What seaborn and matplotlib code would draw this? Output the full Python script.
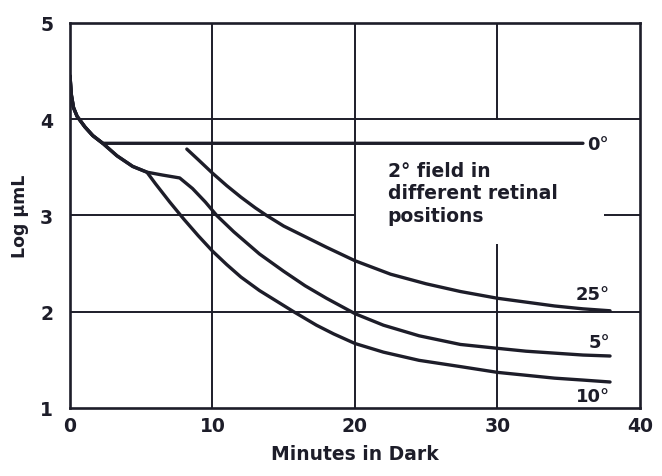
import matplotlib
matplotlib.use("Agg")
import matplotlib.pyplot as plt
import seaborn as sns
import pandas as pd

# Dark adaptation thresholds (log micro-lamberts) versus minutes in the dark,
# for a 2 degree test field at several retinal positions.
cone_t = [0.0, 0.1, 0.25, 0.5, 1.05, 1.6, 2.3]
cone_v = [4.45, 4.25, 4.12, 4.03, 3.92, 3.83, 3.75]

fovea_t = cone_t + [36.0]
fovea_v = cone_v + [3.75]

rod10_t = cone_t + [3.3, 4.4, 5.4, 6, 7, 8, 9, 10, 11, 12, 13.3, 14.5, 15.7, 17.3,
                    18.5, 20, 22, 24.5, 27.4, 30, 32, 34, 36, 37.9]
rod10_v = cone_v + [3.62, 3.51, 3.45, 3.33, 3.14, 2.96, 2.79, 2.63, 2.49, 2.36, 2.22, 2.11, 2.0, 1.86,
                    1.77, 1.67, 1.58, 1.495, 1.43, 1.37, 1.34, 1.31, 1.29, 1.27]

rod5_t = cone_t + [3.3, 4.4, 5.4, 6.5, 7.7, 8.6, 9.5, 10.3, 11.5, 13.3, 15, 16.5, 18,
                   20, 22, 24.5, 27.4, 30, 32, 34, 36, 37.9]
rod5_v = cone_v + [3.62, 3.51, 3.45, 3.42, 3.39, 3.28, 3.14, 3.0, 2.83, 2.60, 2.42, 2.27, 2.14,
                   1.98, 1.86, 1.75, 1.66, 1.62, 1.59, 1.57, 1.55, 1.54]

rod25_t = [8.2, 9, 10, 11, 12, 13, 13.8, 15, 16.5, 18, 20, 22.5, 25, 27.4, 30, 32, 34, 36, 37.9]
rod25_v = [3.69, 3.58, 3.44, 3.31, 3.19, 3.08, 3.0, 2.89, 2.78, 2.67, 2.53, 2.39, 2.29, 2.21,
           2.14, 2.10, 2.06, 2.03, 2.01]

positions = ["0°", "10°", "5°", "25°"]
label_x = [36.3, 37.9, 37.9, 37.9]
label_y = [3.74, 1.12, 1.69, 2.18]
label_ha = ["left", "right", "right", "right"]

x_ticks = [0, 10, 20, 30, 40]
y_ticks = [1, 2, 3, 4, 5]

# broken grid segments: (position, start, end)
v_grid = [(10, 1, 5), (20, 1, 5), (30, 3.99, 5), (30, 1, 2.70)]
h_grid = [(4, 0, 40), (3, 0, 20), (3, 37.5, 40), (2, 0, 40)]

frames = []
for name, t, v in zip(positions, [fovea_t, rod10_t, rod5_t, rod25_t],
                      [fovea_v, rod10_v, rod5_v, rod25_v]):
    frames.append(pd.DataFrame({"minutes": t, "log_threshold": v, "position": name}))
df = pd.concat(frames, ignore_index=True)

sns.set_theme(style="white")
plt.rcParams["font.family"] = ["DejaVu Sans"]

ink = "#1d1d29"
fig = plt.figure(figsize=(6.62, 4.77), dpi=100)
ax = fig.add_axes([0.1057, 0.1426, 0.861, 0.8071])

for x, y0, y1 in v_grid:
    ax.plot([x, x], [y0, y1], color=ink, lw=1.4, solid_capstyle="butt", zorder=1)
for y, x0, x1 in h_grid:
    ax.plot([x0, x1], [y, y], color=ink, lw=1.4, solid_capstyle="butt", zorder=1)

sns.lineplot(data=df, x="minutes", y="log_threshold", hue="position",
             palette={p: ink for p in positions}, sort=False, estimator=None,
             lw=2.4, legend=False, ax=ax, zorder=3)
for line in ax.lines:
    line.set_solid_joinstyle("round")

for name, lx, ly, ha in zip(positions, label_x, label_y, label_ha):
    ax.text(lx, ly, name, ha=ha, va="center", fontsize=13, fontweight="bold", color=ink)

ax.text(22.3, 3.57, "2° field in\ndifferent retinal\npositions", ha="left", va="top",
        fontsize=13.5, fontweight="bold", color=ink, linespacing=1.25)

ax.set_xlim(0, 40)
ax.set_ylim(1, 5)
ax.set_xticks(x_ticks)
ax.set_yticks(y_ticks)
ax.set_xticklabels([str(t) for t in x_ticks], fontsize=13.5, fontweight="bold", color=ink)
ax.set_yticklabels([str(t) for t in y_ticks], fontsize=13.5, fontweight="bold", color=ink)
ax.tick_params(axis="x", length=0, pad=6)
ax.tick_params(axis="y", length=0, pad=12)
ax.set_xlabel("Minutes in Dark", fontsize=13.5, fontweight="bold", color=ink, labelpad=6)
ax.set_ylabel("Log µmL", fontsize=12.5, fontweight="bold", color=ink, labelpad=8)
for s in ax.spines.values():
    s.set_color(ink)
    s.set_linewidth(1.9)

fig.savefig("out.png", dpi=100, facecolor="white")
